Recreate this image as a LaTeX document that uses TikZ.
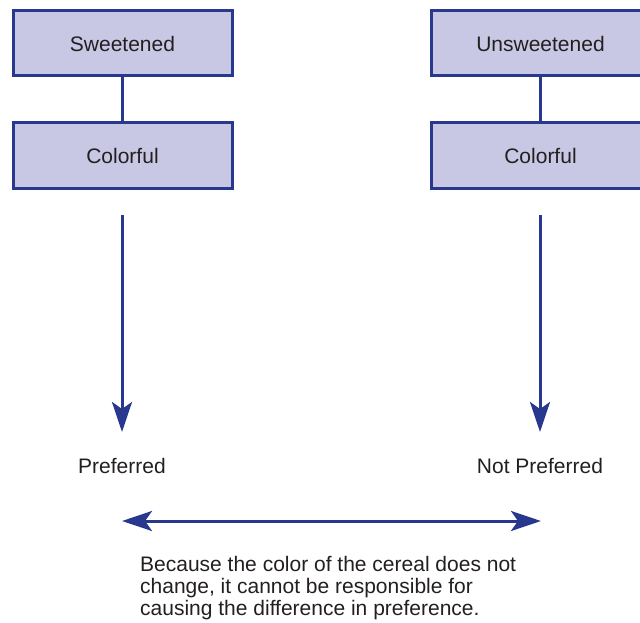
\documentclass[tikz,border=0pt]{standalone}
\usepackage{fontspec}
\setmainfont{Liberation Sans}
\usetikzlibrary{arrows.meta}
\definecolor{boxfill}{HTML}{C8C8E4}
\definecolor{navy}{HTML}{28388F}
\definecolor{ink}{HTML}{231F20}
\tikzset{head/.tip={Stealth[length=30pt,width=20pt,inset=7pt]}}
\begin{document}
\begin{tikzpicture}[x=1pt,y=-1pt,
  factor/.style={draw=navy,line width=3pt,fill=boxfill,minimum width=219pt,minimum height=65pt,
    inner sep=0pt,font=\fontsize{21}{22}\selectfont,text=ink},
  label/.style={font=\fontsize{21}{22}\selectfont,text=ink,inner sep=0pt},
  link/.style={navy,line width=3pt},
  flow/.style={navy,line width=3pt,-head}]
\useasboundingbox (0,0) rectangle (640,623);
% left column
\node[factor] (sw) at (122.5,43.5) {Sweetened};
\node[factor] (cl) at (122.5,155.5) {Colorful};
% right column
\node[factor] (us) at (540.5,43.5) {Unsweetened};
\node[factor] (cr) at (540.5,155.5) {Colorful};
\draw[link] (sw.south) -- (cl.north);
\draw[link] (us.south) -- (cr.north);
% outcomes
\coordinate (lt) at (122,215);
\coordinate (rt) at (540,215);
\coordinate (lb) at (122,432);
\coordinate (rb) at (540,432);
\draw[flow] (lt) -- (lb);
\draw[flow] (rt) -- (rb);
\node[label] (pref) at (122,466) {Preferred};
\node[label] (npref) at (540,466) {Not Preferred};
\coordinate (hl) at (122,521);
\coordinate (hr) at (541,521);
\draw[flow,head-head] (hl) -- (hr);
\node[label,anchor=north west,align=left] (note) at (140,556)
  {Because the color of the cereal does not\\change, it cannot be responsible for\\causing the difference in preference.};
\end{tikzpicture}
\end{document}
